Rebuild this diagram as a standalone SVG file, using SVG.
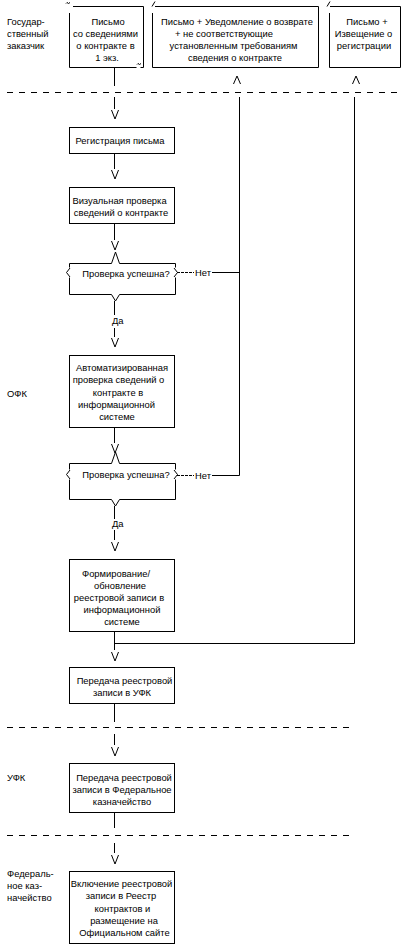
<svg xmlns="http://www.w3.org/2000/svg" xmlns:xlink="http://www.w3.org/1999/xlink" width="407" height="952" viewBox="0 0 407 952">
<style>
.b{fill:none;stroke:#000;stroke-width:1}
.d{fill:none;stroke:#000;stroke-width:1;stroke-dasharray:6 6}
.h{fill:none;stroke:#000;stroke-width:1;stroke-dasharray:3 1}
text{font-family:"Liberation Sans",Arial,sans-serif;font-size:9.4px;fill:#000}
.c{text-anchor:middle}
</style>
<defs>
<path id="dn" class="b" d="M-3.5,0 L0,9 L3.5,0"/>
<path id="up" class="b" d="M-3.5,8 L0,0 L3.5,8"/>
</defs>
<rect width="407" height="952" fill="#fff"/>

<g id="lanes">
<path class="d" d="M7,92.5 H400"/>
<path class="d" d="M7,727.5 H350"/>
<path class="d" d="M7,835.5 H350"/>
<text x="7" y="25">Государ-</text>
<text x="7" y="37">ственный</text>
<text x="7" y="49">заказчик</text>
<text x="7" y="397">ОФК</text>
<text x="7" y="781">УФК</text>
<text x="7" y="877">Федераль-</text>
<text x="7" y="889">ное каз-</text>
<text x="7" y="901">начейство</text>
</g>

<g id="n_letter">
<path class="b" d="M73,6.5 H143.5 V67.5 H140.5 M136.5,67.5 H69.5 V13"/>
<path class="b" d="M66,3.5 L67,2.5 L68.5,3.5 L70,2.5"/>
<path class="b" d="M137,64.5 L138,63.5 L139.5,64.5 L141,63.5"/>
<text class="c" x="108" y="25">Письмо</text>
<text class="c" x="105.5" y="37">со сведениями</text>
<text class="c" x="105.5" y="49">о контракте в</text>
<text class="c" x="107" y="61">1 экз.</text>
</g>

<g id="n_return">
<path class="b" d="M155,6.5 H318.5 V67.5 H152.5 V13"/>
<path class="b" d="M152,6.5 L155,1.5"/>
<text class="c" x="237" y="25">Письмо + Уведомление о возврате</text>
<text class="c" x="224" y="37">+ не соответствующие</text>
<text class="c" x="233.5" y="49">установленным требованиям</text>
<text class="c" x="235" y="61">сведения о контракте</text>
</g>

<g id="n_notice">
<path class="b" d="M330,6.5 H400.5 V67.5 H329.5 V13"/>
<path class="b" d="M327,6.5 L330,1.5"/>
<text class="c" x="367" y="25">Письмо +</text>
<text class="c" x="363.5" y="37">Извещение о</text>
<text class="c" x="364" y="49">регистрации</text>
</g>

<g id="n_reg">
<rect class="b" x="69.5" y="127.5" width="105" height="26"/>
<text class="c" x="120" y="144">Регистрация письма</text>
</g>

<g id="n_visual">
<rect class="b" x="69.5" y="187.5" width="105" height="36"/>
<text class="c" x="119.5" y="204">Визуальная проверка</text>
<text class="c" x="121" y="216">сведений о контракте</text>
</g>

<g id="n_check1">
<path class="b" d="M111.5,263.5 H69.5 V267.5 M69.5,277.5 V294.5 H111.5 L115.5,301 L119.5,294.5 H175.5 V277.5 M175.5,267.5 V263.5 H119.5 L115.5,252 L111.5,263.5"/>
<path class="b" d="M70,268 L66.5,272.5 L70,277 M174,268 L177.5,272.5 L174,277"/>
<text class="c" x="126" y="276.5">Проверка успешна?</text>
</g>

<g id="n_auto">
<rect class="b" x="69.5" y="355.5" width="105" height="72"/>
<text class="c" x="122" y="371">Автоматизированная</text>
<text class="c" x="118.5" y="383">проверка сведений о</text>
<text class="c" x="118" y="395.5">контракте в</text>
<text class="c" x="116.5" y="408">информационной</text>
<text class="c" x="117" y="420">системе</text>
</g>

<g id="n_check2">
<path class="b" d="M111.5,463.5 H69.5 V469.5 M69.5,479.5 V499.5 H111.5 L115.5,506 L119.5,499.5 H175.5 V479.5 M175.5,469.5 V463.5 H119.5 L115.5,452 L111.5,463.5"/>
<path class="b" d="M70,470 L66.5,474.5 L70,479 M174,470 L177.5,474.5 L174,479"/>
<text class="c" x="126" y="478">Проверка успешна?</text>
</g>

<g id="n_form">
<rect class="b" x="69.5" y="559.5" width="105" height="72"/>
<text class="c" x="116" y="577">Формирование/</text>
<text class="c" x="120" y="589">обновление</text>
<text class="c" x="119" y="601">реестровой записи в</text>
<text class="c" x="122" y="613">информационной</text>
<text class="c" x="122" y="625">системе</text>
</g>

<g id="n_send_ufk">
<rect class="b" x="69.5" y="667.5" width="105" height="36"/>
<text class="c" x="124.5" y="684">Передача реестровой</text>
<text class="c" x="122" y="696">записи в УФК</text>
</g>

<g id="n_send_fk">
<rect class="b" x="69.5" y="763.5" width="105" height="49"/>
<text class="c" x="124" y="781">Передача реестровой</text>
<text class="c" x="122" y="793">записи в Федеральное</text>
<text class="c" x="122" y="805">казначейство</text>
</g>

<g id="n_include">
<rect class="b" x="69.5" y="871.5" width="105" height="72"/>
<text class="c" x="121.5" y="887">Включение реестровой</text>
<text class="c" x="121" y="899">записи в Реестр</text>
<text class="c" x="122.5" y="911.5">контрактов и</text>
<text class="c" x="124" y="924">размещение на</text>
<text class="c" x="124.5" y="936">Официальном сайте</text>
</g>

<g id="connectors">
<path class="b" d="M114.5,67.5 V86 M114.5,97 V109 M114.5,153.5 V169 M114.5,223.5 V240 M114.5,301 V315 M114.5,328 V337 M114.5,427.5 V443 M114.5,506 V519 M114.5,530 V540 M114.5,631.5 V650 M114.5,703.5 V722 M114.5,734 V745 M114.5,812.5 V828 M114.5,843 V853"/>
<path class="b" d="M114.5,643.5 H354.5 V97"/>
<path class="b" d="M239.5,97 V475.5 H212 M239.5,272.5 H212"/>
<path class="h" d="M177,272.5 H194 M177,475.5 H194"/>
<text x="195" y="276">Нет</text>
<text x="195" y="479">Нет</text>
<text x="112" y="324">Да</text>
<text x="112" y="527">Да</text>
<use xlink:href="#dn" x="115" y="110"/>
<use xlink:href="#dn" x="115" y="170"/>
<use xlink:href="#dn" x="115" y="241"/>
<use xlink:href="#dn" x="115" y="338"/>
<use xlink:href="#dn" x="115" y="444"/>
<use xlink:href="#dn" x="115" y="542"/>
<use xlink:href="#dn" x="115" y="652"/>
<use xlink:href="#dn" x="115" y="747"/>
<use xlink:href="#dn" x="115" y="855"/>
<use xlink:href="#up" x="237" y="76"/>
<use xlink:href="#up" x="356" y="76"/>
</g>
</svg>
